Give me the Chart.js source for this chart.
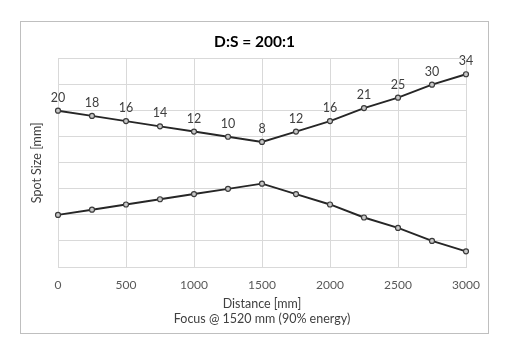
<!DOCTYPE html>
<html>
<head>
<meta charset="utf-8">
<title>D:S = 200:1</title>
<script src="https://cdn.jsdelivr.net/npm/chart.js@4/dist/chart.umd.min.js"></script>
<style>
  html, body { margin: 0; padding: 0; background: #fff; }
  #wrap { width: 512px; height: 350px; position: relative; }
</style>
</head>
<body>
<div id="wrap"><canvas id="spotChart" width="512" height="350"></canvas></div>
<script>
// distance from sensor [mm] and spot diameter [mm]
const distances = [0, 250, 500, 750, 1000, 1250, 1500, 1750, 2000, 2250, 2500, 2750, 3000];
const spotSize = [20, 18, 16, 14, 12, 10, 8, 12, 16, 21, 25, 30, 34];
const xTicks = [0, 500, 1000, 1500, 2000, 2500, 3000];

// upper and lower edge of the beam (half the spot size either side)
const upper = distances.map((d, i) => ({ x: d, y: spotSize[i] / 2 }));
const lower = distances.map((d, i) => ({ x: d, y: -spotSize[i] / 2 }));

const FONT = 'Lato, "Open Sans", sans-serif';
const grid = '#d9d9d9';

const frame = {
  id: 'frame',
  beforeDraw(chart) {
    const c = chart.ctx;
    c.save();
    c.fillStyle = '#fff';
    c.fillRect(0, 0, chart.width, chart.height);
    c.strokeStyle = '#bfbfbf';
    c.lineWidth = 1;
    c.strokeRect(20.5, 21.5, 468, 312);
    c.restore();
  }
};

const sizeLabels = {
  id: 'sizeLabels',
  afterDatasetsDraw(chart) {
    const c = chart.ctx;
    const meta = chart.getDatasetMeta(0);
    c.save();
    c.font = '12.5px ' + FONT;
    c.fillStyle = '#404040';
    c.textAlign = 'center';
    c.textBaseline = 'alphabetic';
    meta.data.forEach((pt, i) => {
      c.fillText(String(spotSize[i]), pt.x, pt.y - 9);
    });
    c.restore();
  }
};

const lineStyle = {
  borderColor: '#262626',
  borderWidth: 1.9,
  pointRadius: 2.5,
  pointBorderWidth: 1.2,
  pointBorderColor: '#3a3a3a',
  pointBackgroundColor: '#c8c8c8',
  tension: 0,
  clip: false
};

new Chart(document.getElementById('spotChart'), {
  type: 'line',
  data: {
    datasets: [
      Object.assign({ label: 'upper', data: upper }, lineStyle),
      Object.assign({ label: 'lower', data: lower }, lineStyle)
    ]
  },
  options: {
    responsive: false,
    animation: false,
    layout: { padding: { left: 20, right: 23, top: 21, bottom: 20 } },
    plugins: {
      legend: { display: false },
      tooltip: { enabled: false },
      title: {
        display: true,
        text: 'D:S = 200:1',
        color: '#000',
        font: { family: FONT, size: 15.5, weight: 'bold' },
        padding: { top: 12, bottom: 7 }
      }
    },
    scales: {
      x: {
        type: 'linear',
        min: 0,
        max: 3000,
        afterBuildTicks: s => { s.ticks = xTicks.map(v => ({ value: v })); },
        afterFit: s => { s.height = 63; },
        grid: { color: grid, drawTicks: false },
        border: { color: grid },
        ticks: {
          color: '#595959',
          padding: 11,
          font: { family: FONT, size: 12 },
          callback: v => String(v)
        },
        title: {
          display: true,
          text: ['Distance [mm]', 'Focus @ 1520 mm (90% energy)'],
          color: '#404040',
          font: { family: FONT, size: 12.5, lineHeight: 1.2 },
          padding: { top: 0, bottom: 4 }
        }
      },
      y: {
        min: -20,
        max: 20,
        afterFit: s => { s.width = 38; },
        grid: { color: grid, drawTicks: false },
        border: { color: grid },
        ticks: { display: false, stepSize: 5 },
        title: {
          display: true,
          text: 'Spot Size [mm]',
          color: '#404040',
          font: { family: FONT, size: 12.5, lineHeight: 1.2 },
          padding: { top: 9, bottom: 0 }
        }
      },
      pad: {
        position: 'right',
        afterFit: s => { s.width = 23; },
        grid: { display: false },
        border: { display: false },
        ticks: { display: false }
      }
    }
  },
  plugins: [frame, sizeLabels]
});
</script>
</body>
</html>
